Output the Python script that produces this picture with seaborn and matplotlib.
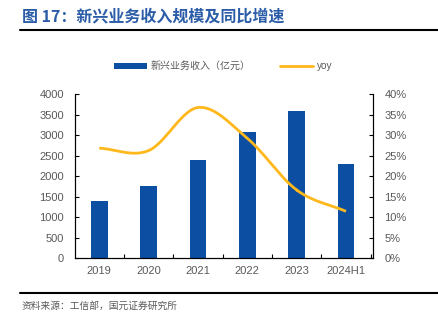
import numpy as np
import pandas as pd
import matplotlib
matplotlib.use("Agg")
import matplotlib.pyplot as plt
import seaborn as sns
from matplotlib.lines import Line2D
from matplotlib.patches import Patch
from matplotlib.ticker import FuncFormatter, FixedLocator

# ---- data ----
categories = ["2019", "2020", "2021", "2022", "2023", "2024H1"]
revenue = [1390, 1755, 2390, 3080, 3590, 2290]          # 亿元
yoy = [0.268, 0.262, 0.367, 0.292, 0.166, 0.114]        # growth rate

sns.set_theme(style="white")
plt.rcParams['font.family'] = ['Liberation Sans', 'Noto Sans CJK SC', 'DejaVu Sans']
CJK = ['Noto Sans CJK SC', 'DejaVu Sans']

BLUE = "#0B4EA2"
GOLD = "#FFB81C"
GRAY = "#595959"

fig = plt.figure(figsize=(4.39, 3.23), dpi=100)
ax = fig.add_axes([0.171, 0.201, 0.679, 0.508])

df = pd.DataFrame({"cat": categories, "rev": revenue})
sns.barplot(data=df, x="cat", y="rev", color=BLUE, width=0.34, ax=ax,
            saturation=1, edgecolor="none")
ax.set_xlim(-0.49, 5.55)
ax.set_ylim(0, 4000)
ax.set_yticks(np.arange(0, 4001, 500))
ax.set_xlabel("")
ax.set_ylabel("")

ax2 = ax.twinx()
# smooth (Catmull-Rom) rendering of the yoy line through the data points
xs = np.arange(len(yoy), dtype=float)
ys = np.array(yoy)
px = np.concatenate([[2 * xs[0] - xs[1]], xs, [2 * xs[-1] - xs[-2]]])
py = np.concatenate([[2 * ys[0] - ys[1]], ys, [2 * ys[-1] - ys[-2]]])
cx, cy = [], []
t = np.linspace(0, 1, 30)
for i in range(1, len(px) - 2):
    for arr, out in ((px, cx), (py, cy)):
        p0, p1, p2, p3 = arr[i - 1], arr[i], arr[i + 1], arr[i + 2]
        seg = 0.5 * ((2 * p1) + (-p0 + p2) * t + (2 * p0 - 5 * p1 + 4 * p2 - p3) * t ** 2
                     + (-p0 + 3 * p1 - 3 * p2 + p3) * t ** 3)
        out.extend(seg)
ax2.plot(cx, cy, color=GOLD, lw=2.0, solid_capstyle="butt")
ax2.set_ylim(0, 0.4)
ax2.set_yticks(np.arange(0, 0.401, 0.05))
ax2.yaxis.set_major_formatter(FuncFormatter(lambda v, p: f"{v*100:.0f}%"))
ax2.set_xlim(-0.49, 5.55)

for a in (ax, ax2):
    a.spines['top'].set_visible(False)
    for s in ('left', 'right', 'bottom'):
        a.spines[s].set_color("black")
        a.spines[s].set_linewidth(0.8)
    a.grid(False)

ax.tick_params(axis='y', direction='in', length=3, width=0.8, color='black',
               labelsize=8, labelcolor=GRAY, pad=8, left=True)
ax2.tick_params(axis='y', direction='in', length=3, width=0.8, color='black',
                labelsize=8, labelcolor=GRAY, pad=8, right=True)
ax.tick_params(axis='x', length=0, labelsize=8, labelcolor=GRAY, pad=6)
ax.xaxis.set_minor_locator(FixedLocator(np.arange(0.5, 5.6, 1.0)))
ax.tick_params(axis='x', which='minor', direction='in', length=3, width=0.8,
               color='black', bottom=True)

# legend
handles = [Patch(facecolor=BLUE, edgecolor='none'),
           Line2D([0], [0], color=GOLD, lw=2)]
leg = fig.legend(handles, ["新兴业务收入（亿元）", "yoy"], loc='center',
                 bbox_to_anchor=(0.508, 0.795), ncol=2, frameon=False,
                 fontsize=7.2, handlelength=3.3, handleheight=0.55,
                 columnspacing=2.9, handletextpad=0.4)
for txt in leg.get_texts():
    txt.set_color(GRAY)
    txt.set_family(CJK if "新" in txt.get_text() else ['Liberation Sans'])

# title & rules
fig.text(0.05, 0.948, "图 17：新兴业务收入规模及同比增速", color="#2A5CA8",
         fontsize=11.5, fontweight='bold', family=CJK, va='center', ha='left')
fig.add_artist(Line2D([0.046, 1.0], [1 - 29.5 / 323] * 2, color='black', lw=1.5,
                      transform=fig.transFigure))
fig.add_artist(Line2D([0.046, 1.0], [1 - 292.5 / 323] * 2, color='black', lw=1.5,
                      transform=fig.transFigure))
fig.text(0.05, 1 - 306 / 323, "资料来源：工信部，国元证券研究所", color=GRAY,
         fontsize=7, family=CJK, va='center', ha='left')

fig.savefig("out.png", dpi=100)
